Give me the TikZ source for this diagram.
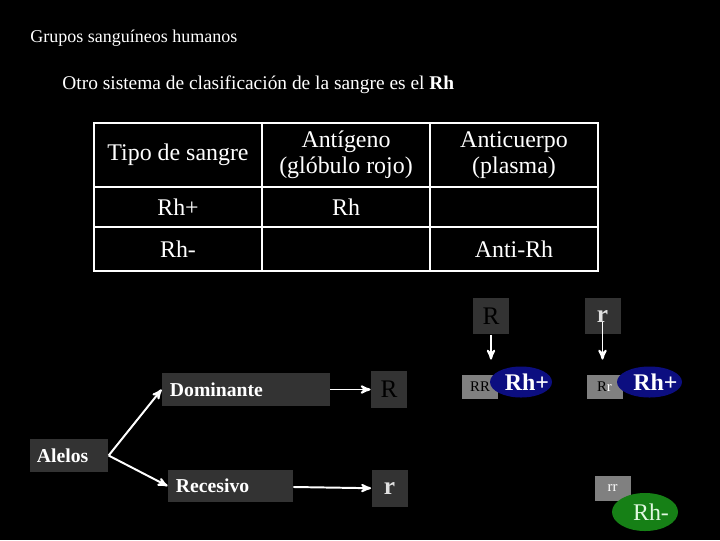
\documentclass[tikz,border=0pt]{standalone}
\usepackage{fontspec}
\setmainfont{Liberation Serif}
\usetikzlibrary{arrows,shapes}
\definecolor{rhazul}{RGB}{12,14,128}
\definecolor{rhverde}{RGB}{22,128,22}
\definecolor{verdeclaro}{RGB}{225,248,225}

\begin{document}
\begin{tikzpicture}[x=0.025cm,y=-0.025cm,>=stealth',semithick]
\tikzstyle{tabla}=[text=white,font=\fontsize{17}{18.5}\selectfont,align=center,inner sep=0pt]
\tikzstyle{caja}=[fill=black!80,text=white,font=\bfseries\fontsize{14}{16}\selectfont,inner xsep=0.2cm,inner ysep=0pt,align=left,minimum height=0.825cm]
\tikzstyle{alelo}=[fill=black!80,inner sep=0pt,minimum width=0.9cm,minimum height=0.92cm,font=\fontsize{18}{20}\selectfont]
\tikzstyle{geno}=[fill=black!50,inner sep=0pt,minimum width=0.9cm,minimum height=0.6cm,font=\fontsize{10.5}{12}\selectfont]
\tikzstyle{fenotipo}=[ellipse,inner sep=0pt,minimum width=1.55cm,minimum height=0.775cm]
\tikzstyle{flecha}=[->,white,line width=1.4pt]
\useasboundingbox (0,0) rectangle (720,540);
\fill[black] (0,0) rectangle (720,540);

% titulos
\node[text=white,anchor=west,inner sep=0pt,font=\fontsize{12.8}{15}\selectfont] (titulo) at (30,38) {Grupos sanguíneos humanos};
\node[text=white,anchor=west,inner sep=0pt,font=\fontsize{13.8}{16}\selectfont] (sub) at (62,85) {Otro sistema de clasificación de la sangre es el \textbf{Rh}};

% tabla
\draw[white,line width=1.3pt] (94,123) rectangle (598,271);
\draw[white,line width=1.3pt] (262,123) -- (262,271) (430,123) -- (430,271)
  (94,187) -- (598,187) (94,227) -- (598,227);
\node[tabla] (tipo) at (178,155) {Tipo de sangre};
\node[tabla] (antigeno) at (346,155) {Antígeno\\(glóbulo rojo)};
\node[tabla] (anticuerpo) at (514,155) {Anticuerpo\\(plasma)};
\node[tabla] (rhpos) at (178,207) {Rh+};
\node[tabla] (rh) at (346,207) {Rh};
\node[tabla] (rhneg) at (178,249) {Rh-};
\node[tabla] (antirh) at (514,249) {Anti-Rh};

% alelos
\node[caja,text width=1.6cm,inner xsep=0.18cm] (alelos) at (69,455.5) {Alelos};
\node[caja,text width=3.8cm] (dom) at (246,389.5) {Dominante};
\node[caja,text width=2.725cm,minimum height=0.8cm] (rec) at (230.5,486) {Recesivo};
\node[alelo,text=black] (R) at (389,389.5) {R};
\node[alelo,text=black!12,font=\bfseries\fontsize{18}{20}\selectfont] (r) at (389.5,488.5) {r};

% combinaciones
\node[alelo,text=black] (Rsup) at (491,316) {R};
\node[alelo,text=black!12,font=\bfseries\fontsize{18}{20}\selectfont] (rsup) at (602.5,316) {r};
\node[geno,text=black] (RR) at (480,387) {RR};
\node[geno] (Rr) at (604.5,387) {\textcolor{black}{R}\textcolor{white}{r}};
\node[geno,text=white,minimum height=0.625cm] (rr) at (612.5,488.5) {rr};
\node[fenotipo,fill=rhazul,text=white,font=\bfseries\fontsize{17}{19}\selectfont] (pos1) at (521,382) {\makebox[0pt]{\hspace*{0.3cm}Rh+}};
\node[fenotipo,fill=rhazul,text=white,minimum width=1.625cm,font=\bfseries\fontsize{17}{19}\selectfont] (pos2) at (649.5,382) {\makebox[0pt]{\hspace*{0.3cm}Rh+}};
\node[fenotipo,fill=rhverde,text=verdeclaro,minimum width=1.65cm,minimum height=0.95cm,font=\fontsize{17}{19}\selectfont] (neg) at (645,512) {\makebox[0pt]{\hspace*{0.3cm}Rh-}};

\path[flecha] (alelos.east) edge (dom.west)
                            edge (rec.west)
              (dom) edge (R)
              (rec) edge (r);
\draw[flecha,shorten >=0.375cm] (Rsup.south) -- (Rsup.south |- RR.north);
\draw[flecha,shorten >=0.375cm] ([yshift=-0.15cm]rsup.center) -- (rsup.center |- Rr.north);
\end{tikzpicture}
\end{document}
